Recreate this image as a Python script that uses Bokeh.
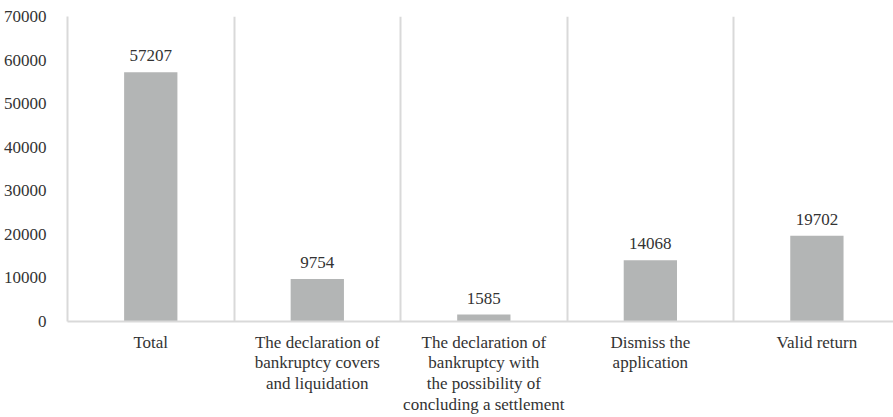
from bokeh.plotting import figure
from bokeh.models import Range1d, FixedTicker, ColumnDataSource, LabelSet
from bokeh.embed import file_html
from bokeh.resources import INLINE

categories = ["Total",
              "The declaration of\nbankruptcy covers\nand liquidation",
              "The declaration of\nbankruptcy with\nthe possibility of\nconcluding a settlement",
              "Dismiss the\napplication",
              "Valid return"]
values = [57207, 9754, 1585, 14068, 19702]
y_ticks = [0, 10000, 20000, 30000, 40000, 50000, 60000, 70000]

FONT = "Liberation Serif"
xs = [i + 0.5 for i in range(len(categories))]

p = figure(width=893, height=417, output_backend="svg", toolbar_location=None,
           x_range=Range1d(0, 4.96), y_range=Range1d(0, 70000),
           min_border_left=66, min_border_right=0, min_border_top=16, min_border_bottom=95)
p.outline_line_color = None
p.background_fill_color = "white"

src = ColumnDataSource(dict(x=xs, top=values, lab=[str(v) for v in values]))
p.vbar(x="x", top="top", width=0.32, bottom=0, source=src, fill_color="#B3B5B5", line_color=None)

labels = LabelSet(x="x", y="top", text="lab", source=src, text_align="center", text_baseline="bottom",
                  y_offset=11, text_font=FONT, text_font_size="17px", text_color="#333333")
p.add_layout(labels)

p.xaxis.ticker = FixedTicker(ticks=xs)
p.xaxis.major_label_overrides = {x: c for x, c in zip(xs, categories)}
p.xaxis.major_tick_line_color = None
p.xaxis.minor_tick_line_color = None
p.xaxis.axis_line_color = "#D9D9D9"
p.xaxis.axis_line_width = 2
p.xaxis.major_label_text_font = FONT
p.xaxis.major_label_text_font_size = "17px"
p.xaxis.major_label_text_line_height = 1.1
p.xaxis.major_label_text_color = "#333333"
p.xaxis.major_label_standoff = 5

p.yaxis.ticker = FixedTicker(ticks=y_ticks)
p.yaxis.major_tick_line_color = None
p.yaxis.minor_tick_line_color = None
p.yaxis.axis_line_color = "#D9D9D9"
p.yaxis.axis_line_width = 2
p.yaxis.major_label_text_font = FONT
p.yaxis.major_label_text_font_size = "17px"
p.yaxis.major_label_text_color = "#333333"
p.yaxis.major_label_standoff = 15

p.ygrid.grid_line_color = None
p.xgrid.ticker = FixedTicker(ticks=[1, 2, 3, 4])
p.xgrid.grid_line_color = "#D9D9D9"
p.xgrid.grid_line_width = 2

open("out.html", "w").write(file_html(p, INLINE))
